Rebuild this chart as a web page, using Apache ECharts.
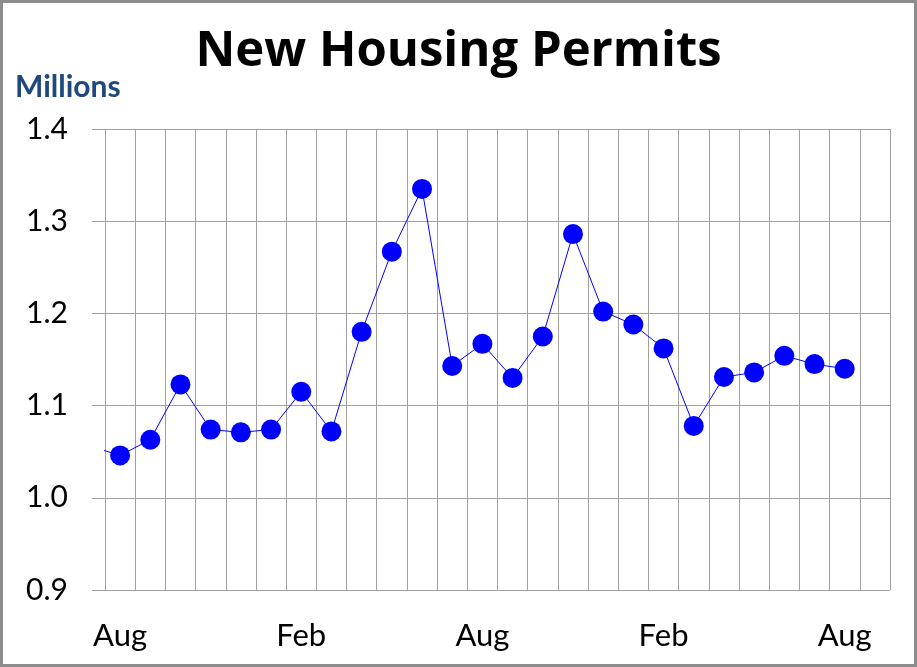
<!DOCTYPE html>
<html>
<head>
<meta charset="utf-8">
<script src="https://cdn.jsdelivr.net/npm/echarts@6/dist/echarts.min.js"></script>
<style>
html,body{margin:0;padding:0;background:#fff;}
#c{width:917px;height:667px;}
</style>
</head>
<body>
<div id="c"></div>
<script>
// Monthly periods (Aug .. Sep two years later)
const months = ['Aug','Sep','Oct','Nov','Dec','Jan','Feb','Mar','Apr','May','Jun','Jul',
                'Aug','Sep','Oct','Nov','Dec','Jan','Feb','Mar','Apr','May','Jun','Jul',
                'Aug','Sep'];
const shownLabels = ['Aug','Feb'];
// Value of the month before the first visible period (only its connecting segment shows)
const priorValue = 1.056;
// Permits, millions (annual rate)
const permits = [1.046,1.063,1.123,1.074,1.071,1.074,1.115,1.072,1.180,1.267,1.335,1.143,
                 1.167,1.130,1.175,1.286,1.202,1.188,1.162,1.078,1.131,1.136,1.154,1.145,1.140];
const yTicks = [0.9,1.0,1.1,1.2,1.3,1.4];

const FONT = 'Lato';
const lineData = [[-0.5, priorValue]].concat(permits.map((v,i)=>[i+0.5, v]));

const chart = echarts.init(document.getElementById('c'), null, {renderer:'canvas'});
chart.setOption({
  animation:false,
  backgroundColor:'#fff',
  title:{
    text:'New Housing Permits',
    left:'center', top:23,
    textStyle:{fontFamily:'Open Sans', fontWeight:'bold', fontSize:49, color:'#000'}
  },
  graphic:[
    {type:'text', left:15, top:72, style:{text:'Millions', fontFamily:FONT, fontWeight:'bold', fontSize:30, fill:'#1F497D'}},
    {type:'rect', shape:{x:1.5,y:1.5,width:914,height:664}, style:{fill:null, stroke:'#8c8c8c', lineWidth:3}, z:100}
  ],
  grid:{left:105, right:27, top:129, bottom:77, containLabel:false},
  xAxis:[
    {type:'value', min:0, max:months.length, interval:1,
     axisLine:{show:false}, axisTick:{show:false}, axisLabel:{show:false},
     splitLine:{show:true, lineStyle:{color:'#a0a0a0', width:1}}},
    {type:'category', data:months, position:'bottom', boundaryGap:true,
     axisLine:{show:false}, axisTick:{show:false}, splitLine:{show:false},
     axisLabel:{interval:0, margin:30, fontFamily:FONT, fontSize:31, color:'#000',
       formatter:(v,i)=> (shownLabels.includes(v) && i % 6 === 0) ? v : ''}}
  ],
  yAxis:{
    type:'value', min:yTicks[0], max:yTicks[yTicks.length-1], interval:0.1,
    axisLine:{show:false},
    axisTick:{show:true, length:13, inside:false, lineStyle:{color:'#a0a0a0'}},
    axisLabel:{margin:37, fontFamily:FONT, fontSize:30, color:'#000', formatter:v=>v.toFixed(1)},
    splitLine:{show:true, lineStyle:{color:'#a0a0a0', width:1}}
  },
  series:[{
    type:'line', xAxisIndex:0, data:lineData, clip:true,
    symbol:'circle', symbolSize:20, showAllSymbol:true,
    lineStyle:{color:'#0000ff', width:1},
    itemStyle:{color:'#0000ff'}
  }]
});
</script>
</body>
</html>
